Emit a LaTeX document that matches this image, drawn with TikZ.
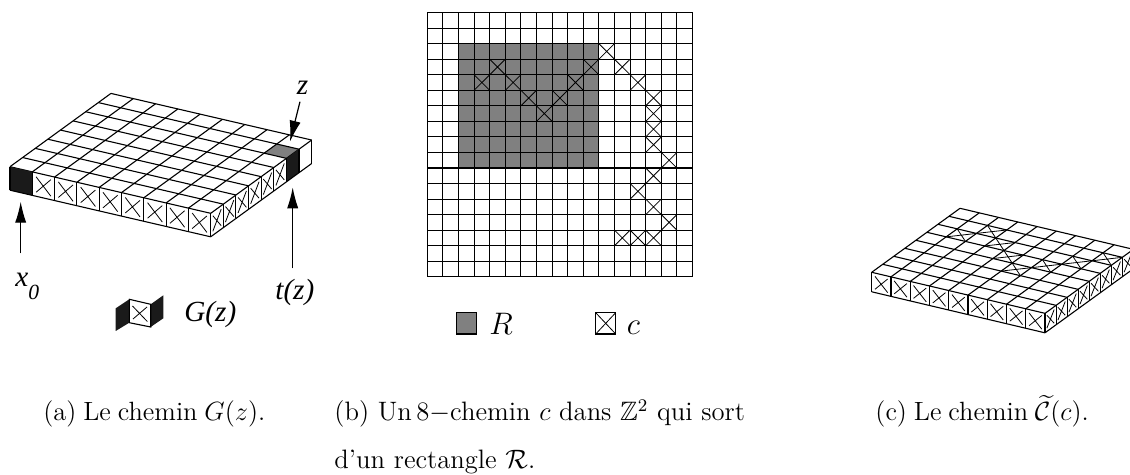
\documentclass[tikz,border=0pt]{standalone}
\usepackage[no-math]{fontspec}
\usepackage{amssymb}
\usepackage{xcolor}
\usetikzlibrary{arrows.meta}
\newfontfamily\labelfont{Liberation Serif}
\definecolor{cellgrey}{RGB}{128,128,128}
\definecolor{cellblack}{RGB}{26,26,26}
\newcommand{\tightwords}{\spaceskip=0.26em\relax}

\begin{document}
\begin{tikzpicture}[
    x=0.5pt, y=-0.5pt,
    cellline/.style ={black, line width=0.55pt},
    crossline/.style={black, line width=0.4pt},
    pointer/.style  ={-{Latex[length=10.5pt, width=5.6pt]}, line width=0.6pt},
    tlabel/.style   ={anchor=base west, inner sep=0pt, font=\labelfont\itshape\fontsize{14.6}{16}\selectfont},
    legendtext/.style={anchor=base west, inner sep=0pt, scale=1.08, font=\Large},
    captext/.style  ={anchor=base west, inner sep=0pt, scale=1.10, font=\large\tightwords},
    capwide/.style  ={anchor=base west, inner sep=0pt, scale=1.11, font=\large},
    topa/.style     ={shift={(10,166.7)}, x={(11.15pt,-2.59pt)}, y={(6.31pt,4.58pt)}},
    fronta/.style   ={shift={(10,166.7)}, x={(11.15pt,-2.59pt)}, y={(0pt,-11.75pt)}},
    sidea/.style    ={shift={(210.7,213.3)}, x={(6.31pt,4.58pt)}, y={(0pt,-11.75pt)}},
    topc/.style     ={shift={(871.7,272.3)}, x={(9.63pt,-2.28pt)}, y={(5.52pt,4pt)}},
    frontc/.style   ={shift={(871.7,272.3)}, x={(9.63pt,-2.28pt)}, y={(0pt,-9.75pt)}},
    sidec/.style    ={shift={(1045,313.3)}, x={(5.52pt,4pt)}, y={(0pt,-9.75pt)}},
    gridb/.style    ={shift={(427.3,12.6)}, x=7.8pt, y=-7.77pt}
]
% cell-wide cross, inset cross on a side of a slab, filled cell
\def\xcell#1#2{\draw[crossline] (#1,#2) -- ++(1,1) (#1+1,#2) -- ++(-1,1);}
\def\xface#1{\draw[crossline] (#1+.17,.17) -- (#1+.83,.85) (#1+.83,.15) -- (#1+.17,.83);}
\def\fillcell#1#2#3{\fill[#1] (#2,#3) -- ++(1,0) -- ++(0,1) -- ++(-1,0) -- cycle;}
\def\topgrid{\foreach \i in {0,...,9}{\draw[cellline] (\i,0) -- (\i,8);}
  \foreach \j in {0,...,8}{\draw[cellline] (0,\j) -- (9,\j);}}
\useasboundingbox (0,0) rectangle (1130,475);

% --- (a) slab with the path G(z) ---
\begin{scope}[topa]
  \fillcell{cellgrey}{8}{6}
  \topgrid
\end{scope}
\begin{scope}[fronta]
  \fillcell{cellblack}{0}{0}
  \foreach \i in {0,...,9}{\draw[cellline] (\i,0) -- (\i,1);}
  \draw[cellline] (0,1) -- (9,1);
  \foreach \i in {1,...,8}{\xface{\i}}
\end{scope}
\begin{scope}[sidea]
  \fillcell{cellblack}{6}{0}
  \foreach \i in {0,...,8}{\draw[cellline] (\i,0) -- (\i,1);}
  \draw[cellline] (0,1) -- (8,1);
  \foreach \i in {0,...,5}{\xface{\i}}
\end{scope}
% arrows and labels
\coordinate (zfrom) at (300,101.7);
\coordinate (zto) at (290,141.7);
\coordinate (tfrom) at (292.7,268.3);
\coordinate (tto) at (292.7,187.3);
\coordinate (xfrom) at (20.7,253.3);
\coordinate (xto) at (20.7,201.7);
\draw[pointer] (zfrom) -- (zto);
\draw[pointer] (tfrom) -- (tto);
\draw[pointer] (xfrom) -- (xto);
\node[tlabel] (zlabel) at (296.5,95) {z};
\node[tlabel] (xlabel) at (15,287) {x\raisebox{-6.5pt}{\fontsize{10.8}{12}\selectfont 0}};
\node[tlabel] (timelabel) at (275,300) {t(z)};
\node[tlabel] (glabel) at (184,321.7) {G(z)};
% small G(z) sample
\fill[cellblack] (115.7,308.3) -- (129.3,299.3) -- (129.3,322.7) -- (115.7,331) -- cycle;
\fill[cellblack] (150.7,304.3) -- (163.3,295.3) -- (163.3,318.3) -- (150.7,327) -- cycle;
\draw[cellline] (129.3,299.3) -- (150.7,304.3) -- (150.7,327) -- (129.3,322.7) -- cycle;
\draw[crossline] (132.5,306) -- (147.3,321.5) (147,307) -- (133,319);

% --- (b) flat grid with the 8-path ---
\begin{scope}[gridb]
  \fill[cellgrey] (2,2) rectangle (11,10);
  \foreach \i in {0,...,17}{
    \draw[cellline] (\i,0) -- (\i,17);
    \draw[cellline] (0,\i) -- (17,\i);
  }
  \foreach \i/\j in {3/4,4/3,5/4,6/5,7/6,8/5,9/4,10/3,11/2,12/3,13/4,14/5,14/6,14/7,14/8,15/9,14/10,13/11,14/12,15/13,14/14,13/14,12/14}{\xcell{\i}{\j}}
\end{scope}
\draw[cellline, fill=cellgrey] (456.7,312.7) rectangle (476.7,334);
\node[legendtext] (rlabel) at (489,335) {$R$};
\draw[cellline] (595.7,312.7) rectangle (615.7,334);
\draw[crossline] (595.7,312.7) -- (615.7,334) (615.7,312.7) -- (595.7,334);
\node[legendtext] (clabel) at (626.5,335) {$c$};

% --- (c) slab with the lifted path ---
\begin{scope}[topc]
  \topgrid
  \foreach \i/\j in {1/5,2/6,3/5,4/4,5/3,6/4,7/5,8/6}{\xcell{\i}{\j}}
\end{scope}
\begin{scope}[frontc]
  \foreach \i in {0,...,9}{\draw[cellline] (\i,0) -- (\i,1);}
  \draw[cellline] (0,1) -- (9,1);
  \foreach \i in {0,...,8}{\xface{\i}}
\end{scope}
\begin{scope}[sidec]
  \foreach \i in {0,...,8}{\draw[cellline] (\i,0) -- (\i,1);}
  \draw[cellline] (0,1) -- (8,1);
  \foreach \i in {0,...,7}{\xface{\i}}
\end{scope}

% --- captions ---
\node[captext] (capa) at (43,421) {(a) Le chemin $G(z)$.};
\node[capwide] (capb) at (334,421) {(b) Un\,8$-$chemin $c$ dans $\mathbb{Z}^2$ qui sort};
\node[capwide] (capbb) at (334,468.5) {d'un rectangle $\mathcal{R}$.};
\node[captext] (capc) at (875,421) {(c) Le chemin $\widetilde{\mathcal{C}}(c)$.};
\end{tikzpicture}
\end{document}
